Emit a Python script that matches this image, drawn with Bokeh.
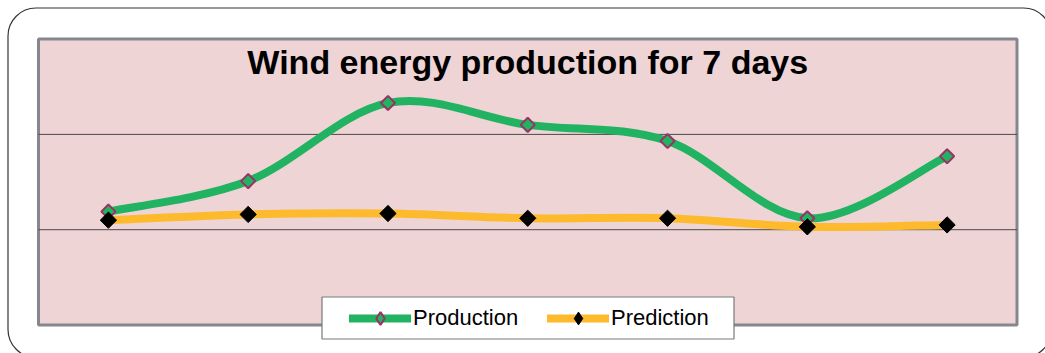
from bokeh.plotting import figure
from bokeh.models import (Range1d, Legend, LegendItem, Label, BoxAnnotation,
                          ColumnDataSource)
from bokeh.embed import file_html
from bokeh.resources import INLINE
import math

# ---- data ----
days = [1, 2, 3, 4, 5, 6, 7]
production = [1.19, 1.51, 2.33, 2.10, 1.93, 1.12, 1.77]
prediction = [1.10, 1.16, 1.17, 1.12, 1.12, 1.03, 1.05]
series_names = ["Production", "Prediction"]
grid_levels = [1, 2]
y_max = 3
title_text = "Wind energy production for 7 days"

GREEN = "#21B262"
YELLOW = "#FDBA2C"
PURPLE = "#993366"
NAN = float("nan")

# ---- layout (pixels in the canvas) ----
W, H = 1045, 353
PX_L, PX_R = 38.0, 1016.5      # plot area left/right
PX_T, PX_B = 38.6, 324.5       # plot area top/bottom
x_lo, x_hi = days[0] - 0.5, days[-1] + 0.5
sx = (PX_R - PX_L) / (x_hi - x_lo)
sy = (PX_B - PX_T) / y_max
xr = Range1d(x_lo - PX_L / sx, x_hi + (W - PX_R) / sx)
yr = Range1d(0 - (H - PX_B) / sy, y_max + PX_T / sy)


def px2x(px):
    return xr.start + px / sx


def px2y(py):
    return yr.end - py / sy


def smooth_segments(xs, ys):
    """Cubic Bezier segments (Catmull-Rom style smoothing, like a 'smoothed line')."""
    n = len(xs)
    out = dict(x0=[], y0=[], x1=[], y1=[], cx0=[], cy0=[], cx1=[], cy1=[])
    for i in range(n - 1):
        xa, ya = (xs[i - 1], ys[i - 1]) if i > 0 else (xs[i], ys[i])
        xd, yd = (xs[i + 2], ys[i + 2]) if i + 2 < n else (xs[i + 1], ys[i + 1])
        out["x0"].append(xs[i]); out["y0"].append(ys[i])
        out["x1"].append(xs[i + 1]); out["y1"].append(ys[i + 1])
        out["cx0"].append(xs[i] + (xs[i + 1] - xa) / 6.0)
        out["cy0"].append(ys[i] + (ys[i + 1] - ya) / 6.0)
        out["cx1"].append(xs[i + 1] - (xd - xs[i]) / 6.0)
        out["cy1"].append(ys[i + 1] - (yd - ys[i]) / 6.0)
    return ColumnDataSource(out)


p = figure(width=W, height=H, output_backend="svg", toolbar_location=None,
           x_range=xr, y_range=yr, x_axis_location=None, y_axis_location=None,
           tools="", min_border=0)
p.min_border_left = p.min_border_right = p.min_border_top = p.min_border_bottom = 0
p.background_fill_color = "white"
p.border_fill_color = "white"
p.outline_line_color = None
for g in p.grid:
    g.visible = False

# outer rounded frame of the chart
p.add_layout(BoxAnnotation(left=px2x(7.5), right=px2x(W + 6), top=px2y(7.5), bottom=px2y(H + 4),
                           fill_alpha=0, line_color="#333333", line_alpha=1, line_width=1.2,
                           border_radius=28, level="underlay", editable=False))

# plot area
p.add_layout(BoxAnnotation(left=x_lo, right=x_hi, bottom=0, top=y_max,
                           fill_color="#EED4D4", fill_alpha=1,
                           line_color="#86868E", line_alpha=1, line_width=3,
                           level="underlay", editable=False))

# horizontal gridlines
p.segment(x0=[x_lo] * len(grid_levels), x1=[x_hi] * len(grid_levels),
          y0=grid_levels, y1=grid_levels, line_color="#4a4a4a", line_width=1)

# smoothed lines
p.bezier("x0", "y0", "x1", "y1", "cx0", "cy0", "cx1", "cy1",
         source=smooth_segments(days, prediction), line_color=YELLOW,
         line_width=8, line_cap="round")
p.bezier("x0", "y0", "x1", "y1", "cx0", "cy0", "cx1", "cy1",
         source=smooth_segments(days, production), line_color=GREEN,
         line_width=8, line_cap="round")

p.scatter(days, production, marker="square", angle=math.pi / 4, size=10,
          fill_color=GREEN, line_color=PURPLE, line_width=2)
p.scatter(days, prediction, marker="square", angle=math.pi / 4, size=11.5,
          fill_color="black", line_color="black", line_width=1)

# legend box
p.add_layout(BoxAnnotation(left=px2x(321.5), right=px2x(733.5), top=px2y(296.5), bottom=px2y(338.5),
                           fill_color="white", fill_alpha=1,
                           line_color="#7a7a7a", line_alpha=1, line_width=1.2,
                           level="annotation", editable=False))

# legend proxies (not drawn in the plot)
prod_l = p.line([NAN], [NAN], line_color=GREEN, line_width=8, line_cap="round")
pred_l = p.line([NAN], [NAN], line_color=YELLOW, line_width=8, line_cap="round")
prod_lm = p.scatter([NAN], [NAN], marker="diamond",
                    fill_color=GREEN, line_color=PURPLE, line_width=2)
pred_lm = p.scatter([NAN], [NAN], marker="diamond",
                    fill_color="black", line_color="black", line_width=1)

legend = Legend(items=[LegendItem(label=series_names[0], renderers=[prod_l, prod_lm]),
                       LegendItem(label=series_names[1], renderers=[pred_l, pred_lm])],
                orientation="horizontal", location=(349, H - 333.5),
                glyph_width=62, glyph_height=32, label_standoff=2,
                label_width=106, spacing=28, padding=0, margin=0,
                label_text_font="Liberation Sans", label_text_font_size="22px",
                label_text_color="black",
                border_line_color=None, background_fill_alpha=0)
p.add_layout(legend)

p.add_layout(Label(x=(x_lo + x_hi) / 2, y=px2y(61.5), text=title_text, text_align="center",
                   text_baseline="alphabetic", text_font="Liberation Sans",
                   text_font_style="bold", text_font_size="34px",
                   text_color="black"))

open("out.html", "w").write(file_html(p, INLINE))
